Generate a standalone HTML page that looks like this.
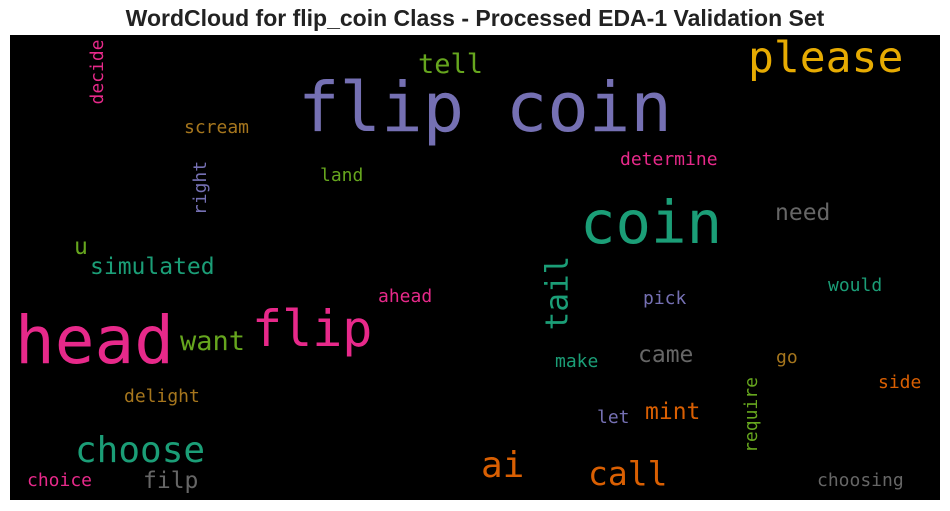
<!DOCTYPE html>
<html><head><meta charset="utf-8"><style>
body{margin:0;width:950px;height:511px;background:#fff;position:relative;overflow:hidden}
.t{position:absolute;left:0;width:950px;top:5px;text-align:center;font:bold 23px "Liberation Sans",sans-serif;color:#222}
.bg{position:absolute;left:10px;top:35px;width:930px;height:465px;background:#000}
.w{position:absolute;font-family:"DejaVu Sans Mono","Liberation Mono",monospace;line-height:1;white-space:nowrap}
.v{position:absolute;font-family:"DejaVu Sans Mono","Liberation Mono",monospace;line-height:1;white-space:nowrap;transform:translate(-50%,-50%) rotate(-90deg)}
</style></head><body>
<div class="t">WordCloud for flip_coin Class - Processed EDA-1 Validation Set</div>
<div class="bg"></div>
<div class="w" style="left:298px;top:74px;font-size:69px;color:#7570b3">flip coin</div>
<div class="w" style="left:748px;top:37px;font-size:43px;color:#e6ab02">please</div>
<div class="w" style="left:418px;top:51px;font-size:27px;color:#66a61e">tell</div>
<div class="v" style="left:98px;top:72px;font-size:18px;color:#e7298a">decide</div>
<div class="w" style="left:184px;top:119px;font-size:18px;color:#a6761d">scream</div>
<div class="v" style="left:201px;top:188px;font-size:18px;color:#7570b3">right</div>
<div class="w" style="left:320px;top:167px;font-size:18px;color:#66a61e">land</div>
<div class="w" style="left:620px;top:151px;font-size:18px;color:#e7298a">determine</div>
<div class="w" style="left:580px;top:193px;font-size:59px;color:#1b9e77">coin</div>
<div class="w" style="left:775px;top:202px;font-size:23px;color:#666666">need</div>
<div class="w" style="left:74px;top:236px;font-size:23px;color:#66a61e">u</div>
<div class="w" style="left:90px;top:256px;font-size:23px;color:#1b9e77">simulated</div>
<div class="v" style="left:558px;top:293px;font-size:31px;color:#1b9e77">tail</div>
<div class="w" style="left:828px;top:277px;font-size:18px;color:#1b9e77">would</div>
<div class="w" style="left:378px;top:288px;font-size:18px;color:#e7298a">ahead</div>
<div class="w" style="left:643px;top:290px;font-size:18px;color:#7570b3">pick</div>
<div class="w" style="left:15px;top:308px;font-size:66px;color:#e7298a">head</div>
<div class="w" style="left:252px;top:304px;font-size:50px;color:#e7298a">flip</div>
<div class="w" style="left:180px;top:328px;font-size:27px;color:#66a61e">want</div>
<div class="w" style="left:638px;top:344px;font-size:23px;color:#666666">came</div>
<div class="w" style="left:555px;top:353px;font-size:18px;color:#1b9e77">make</div>
<div class="w" style="left:776px;top:349px;font-size:18px;color:#a6761d">go</div>
<div class="w" style="left:878px;top:374px;font-size:18px;color:#d95f02">side</div>
<div class="w" style="left:124px;top:388px;font-size:18px;color:#a6761d">delight</div>
<div class="v" style="left:752px;top:415px;font-size:18px;color:#66a61e">require</div>
<div class="w" style="left:645px;top:401px;font-size:23px;color:#d95f02">mint</div>
<div class="w" style="left:597px;top:409px;font-size:18px;color:#7570b3">let</div>
<div class="w" style="left:75px;top:433px;font-size:36px;color:#1b9e77">choose</div>
<div class="w" style="left:481px;top:448px;font-size:36px;color:#d95f02">ai</div>
<div class="w" style="left:588px;top:457px;font-size:33px;color:#d95f02">call</div>
<div class="w" style="left:27px;top:472px;font-size:18px;color:#e7298a">choice</div>
<div class="w" style="left:143px;top:470px;font-size:23px;color:#666666">filp</div>
<div class="w" style="left:817px;top:472px;font-size:18px;color:#666666">choosing</div>
</body></html>
